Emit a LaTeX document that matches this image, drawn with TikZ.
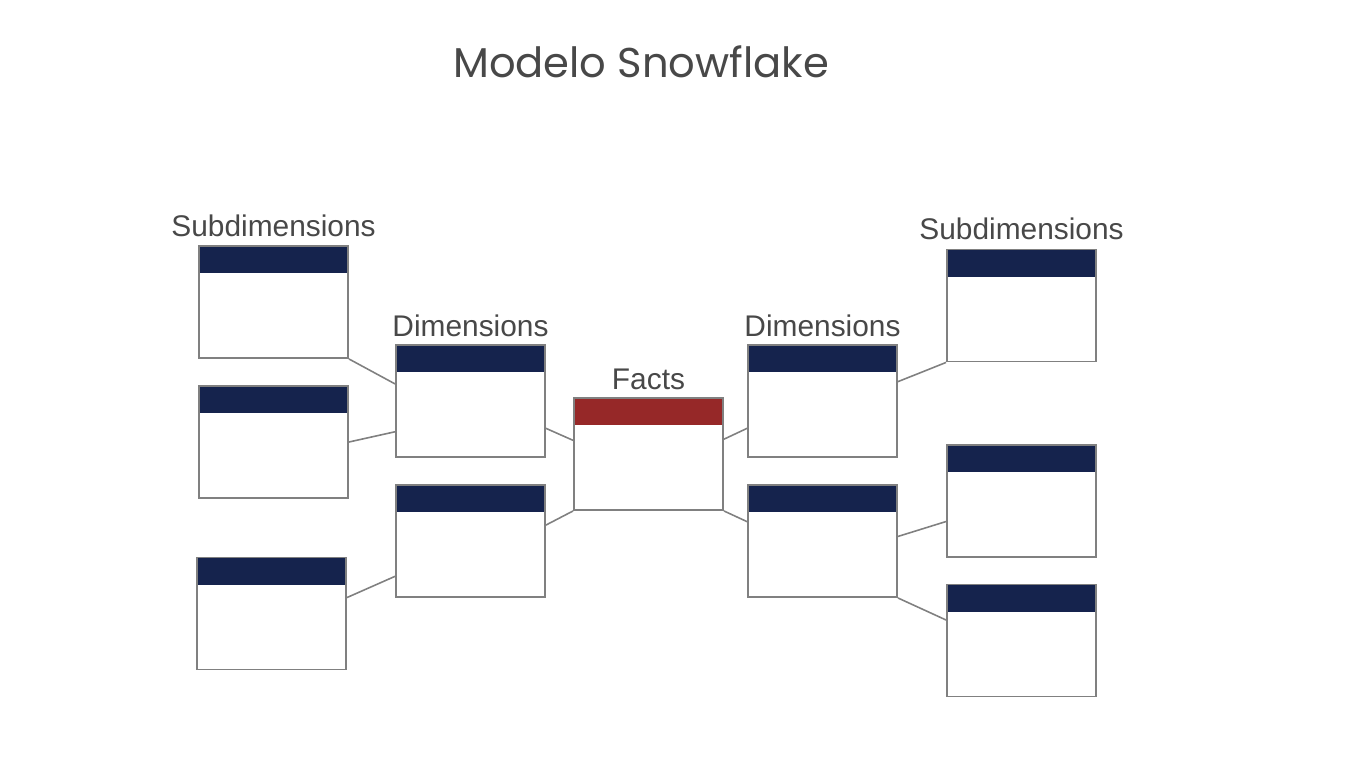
\documentclass[tikz,border=0pt]{standalone}
\usepackage{fontspec}
\setmainfont{Liberation Sans}
\newfontfamily\titlefont{Poppins}
\usetikzlibrary{positioning,calc}
\definecolor{tblnavy}{HTML}{15234D}
\definecolor{tblred}{HTML}{962828}
\definecolor{tblgray}{HTML}{808080}
\definecolor{txtgray}{HTML}{484848}

\begin{document}
\begin{tikzpicture}[x=0.02cm,y=-0.02cm,
  tbl/.style={draw=tblgray, line width=1.1pt, fill=white, minimum width=2.98cm, minimum height=2.24cm, inner sep=0pt,
    path picture={\fill[#1] (path picture bounding box.north west) rectangle ([yshift=-0.54cm]path picture bounding box.north east);}},
  tbl/.default=tblnavy,
  lbl/.style={inner sep=0pt, text=txtgray, font=\fontsize{17}{20}\selectfont},
  link/.style={draw=tblgray, line width=0.9pt}]
\useasboundingbox (0,0) rectangle (1355,775);

\node[text=txtgray, font=\titlefont\fontsize{23.7}{28}\selectfont] (title) at (641,62) {Modelo Snowflake};

% tables
\node[tbl] (s1) at (273.5,302) {};
\node[tbl] (s2) at (273.5,442) {};
\node[tbl] (s3) at (271.5,613.5) {};
\node[tbl] (d1) at (470.5,401) {};
\node[tbl] (d2) at (470.5,541) {};
\node[tbl=tblred] (f) at (648.5,454) {};
\node[tbl] (d3) at (822.5,401) {};
\node[tbl] (d4) at (822.5,541) {};
\node[tbl] (s4) at (1021.5,305.5) {};
\node[tbl] (s5) at (1021.5,501) {};
\node[tbl] (s6) at (1021.5,640.5) {};

% labels
\node[lbl, above=0.16cm of s1] (subl) {Subdimensions};
\node[lbl, above=0.13cm of d1] (diml) {Dimensions};
\node[lbl, above=0.13cm of f] (factl) {Facts};
\node[lbl, above=0.13cm of d3] (dimr) {Dimensions};
\node[lbl, above=0.16cm of s4] (subr) {Subdimensions};

% links
\draw[link] (s1.south east) -- ($(d1.north west)!0.35!(d1.south west)$);
\draw[link] (s2.east) -- ($(d1.north west)!0.77!(d1.south west)$);
\draw[link] ($(s3.north east)!0.36!(s3.south east)$) -- ($(d2.north west)!0.81!(d2.south west)$);
\draw[link] ($(d1.north east)!0.74!(d1.south east)$) -- ($(f.north west)!0.38!(f.south west)$);
\draw[link] ($(d2.north east)!0.36!(d2.south east)$) -- (f.south west);
\draw[link] ($(f.north east)!0.37!(f.south east)$) -- ($(d3.north west)!0.74!(d3.south west)$);
\draw[link] (f.south east) -- ($(d4.north west)!0.33!(d4.south west)$);
\draw[link] ($(d3.north east)!0.33!(d3.south east)$) -- (s4.south west);
\draw[link] ($(d4.north east)!0.46!(d4.south east)$) -- ($(s5.north west)!0.68!(s5.south west)$);
\draw[link] (d4.south east) -- ($(s6.north west)!0.32!(s6.south west)$);
\end{tikzpicture}
\end{document}
